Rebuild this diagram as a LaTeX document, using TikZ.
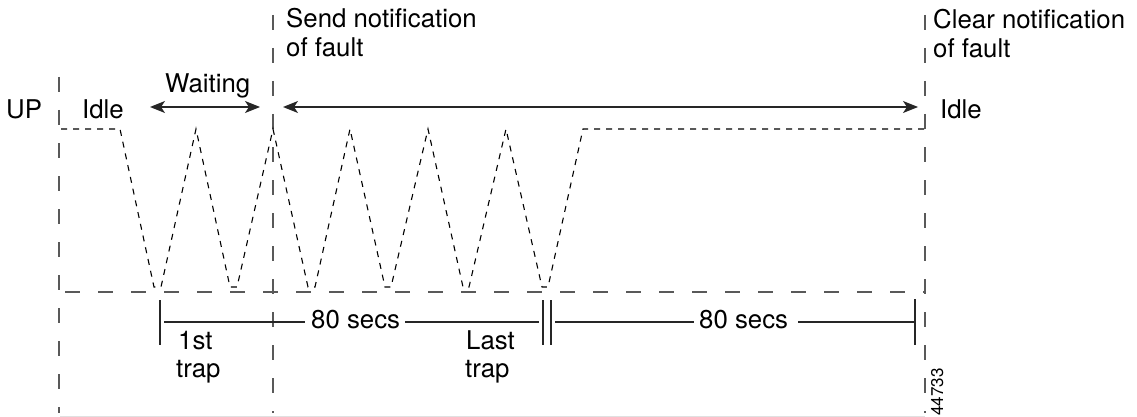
\documentclass[tikz,border=0pt]{standalone}
\usepackage{fontspec}
\setmainfont{TeX Gyre Heros}
\usetikzlibrary{arrows.meta}
\begin{document}
\begin{tikzpicture}[x=1pt,y=-1pt,
  lbl/.style={font=\fontsize{25.8}{29}\selectfont, inner sep=0pt, anchor=base west},
  tag/.style={font=\fontsize{17}{20}\selectfont, inner sep=0pt, anchor=base west, rotate=90},
  guide/.style={draw=black!65, line width=1.6pt, dash pattern=on 15pt off 18pt},
  sig/.style={draw=black, line width=1.1pt, dash pattern=on 6pt off 6pt},
  dim/.style={draw=black!85, line width=1.3pt},
  twoway/.style={draw=black!85, line width=1.3pt,
    {Stealth[length=15pt,width=12pt,inset=4pt]}-{Stealth[length=15pt,width=12pt,inset=4pt]}},
  frame/.style={draw=black!12, line width=1pt}]
\useasboundingbox (0,0) rectangle (1137,417);

% guide lines
\coordinate (gL1) at (59,77);  \coordinate (gL2) at (59,413);
\coordinate (gM1) at (273,15); \coordinate (gM2) at (273,413);
\coordinate (gR1) at (925,15); \coordinate (gR2) at (925,413);
\coordinate (base0) at (65,292); \coordinate (base1) at (925,292);
\draw[guide] (gL1) -- (gL2);
\draw[guide] (gM1) -- (gM2);
\draw[guide] (gR1) -- (gR2);
\draw[guide] (base0) -- (base1);
\coordinate (fr0) at (60,416); \coordinate (fr1) at (925,416);
\draw[frame] (fr0) -- (fr1);

% signal waveform
\draw[sig] (61,129) -- (120,129) -- (154,287) -- (161,287) -- (196,129)
  -- (230,287) -- (237,287) -- (273,129) -- (308,287) -- (315,287) -- (350,129)
  -- (385,287) -- (391,287) -- (428,129) -- (463,287) -- (469,287) -- (506,129)
  -- (542,287) -- (548,287) -- (583,129) -- (925,129);

% arrows
\coordinate (w1) at (150,107); \coordinate (w2) at (260,107);
\coordinate (f1) at (283,107); \coordinate (f2) at (918,107);
\draw[twoway] (w1) -- (w2);
\draw[twoway] (f1) -- (f2);

% labels
\node[lbl] (up) at (6,118) {UP};
\node[lbl] (idle1) at (82,118) {Idle};
\node[lbl] (wait) at (165,93) {Waiting};
\node[lbl] (send1) at (286,28) {Send notification};
\node[lbl] (send2) at (286,57) {of fault};
\node[lbl] (clr1) at (933,29) {Clear notification};
\node[lbl] (clr2) at (933,58) {of fault};
\node[lbl] (idle2) at (940,119) {Idle};
\node[lbl] (first1) at (178,349) {1st};
\node[lbl] (first2) at (176,377) {trap};
\node[lbl] (last1) at (466,349) {Last};
\node[lbl] (last2) at (465,377) {trap};
\node[tag] (fig) at (943,416) {44733};

% timeline
\node[lbl] (s1) at (311,328) {80 secs};
\node[lbl] (s2) at (699,328) {80 secs};
\coordinate (b1t) at (160,300); \coordinate (b1b) at (160,345); \coordinate (b1m) at (164,322);
\coordinate (b2t) at (543,300); \coordinate (b2b) at (543,345); \coordinate (b2m) at (539,322);
\coordinate (b3t) at (551,300); \coordinate (b3b) at (551,345); \coordinate (b3m) at (555,322);
\coordinate (b4t) at (915,299); \coordinate (b4b) at (915,345); \coordinate (b4m) at (915,322);
\draw[dim] (b1t) -- (b1b);
\draw[dim] (b2t) -- (b2b);
\draw[dim] (b3t) -- (b3b);
\draw[dim] (b4t) -- (b4b);
\draw[dim] (b1m) -- ([xshift=-6pt,yshift=6pt]s1.base west);
\draw[dim] ([xshift=5pt,yshift=6pt]s1.base east) -- (b2m);
\draw[dim] (b3m) -- ([xshift=-5pt,yshift=6pt]s2.base west);
\draw[dim] ([xshift=10pt,yshift=6pt]s2.base east) -- (b4m);
\end{tikzpicture}
\end{document}
